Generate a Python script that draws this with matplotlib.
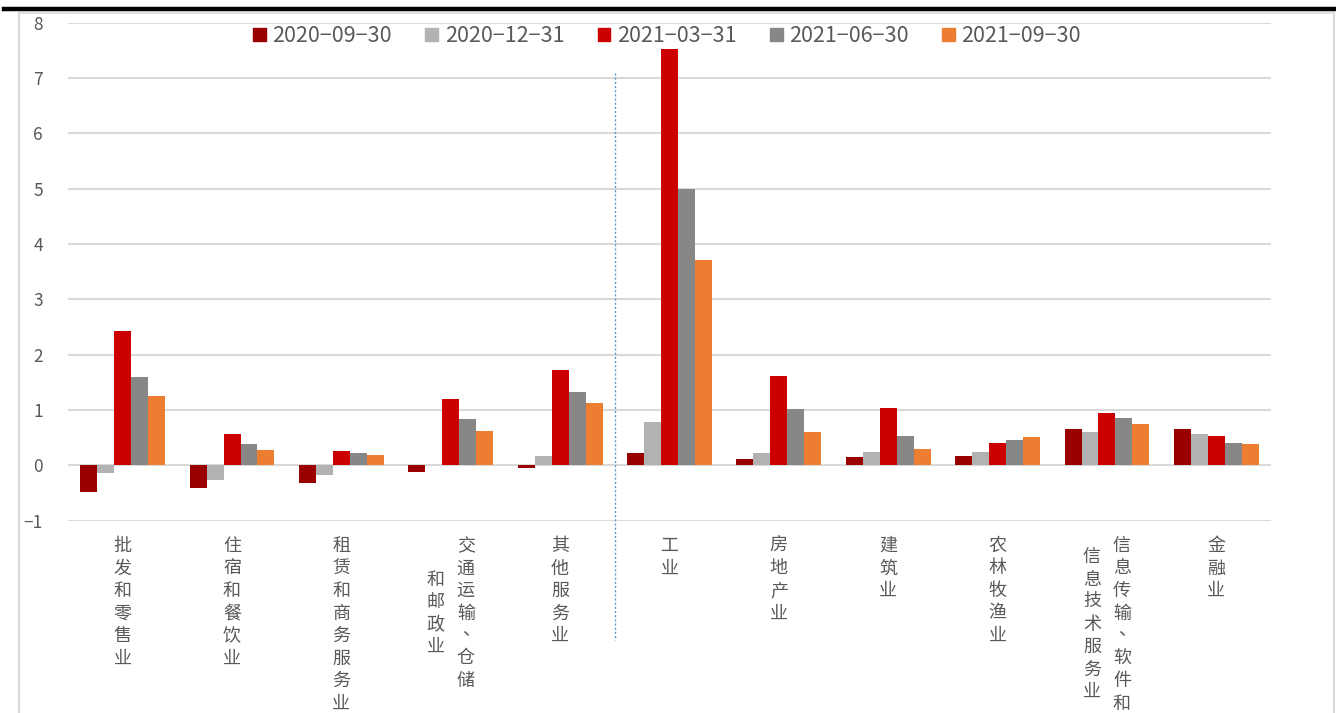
import matplotlib
matplotlib.use("Agg")
import matplotlib.pyplot as plt
import numpy as np
from matplotlib.patches import Rectangle
from matplotlib.lines import Line2D
from matplotlib.transforms import blended_transform_factory

plt.rcParams['font.family'] = ['Noto Sans CJK SC', 'DejaVu Sans']
plt.rcParams['axes.unicode_minus'] = True

categories = ["批发和零售业", "住宿和餐饮业", "租赁和商务服务业", "交通运输、仓储和邮政业",
              "其他服务业", "工业", "房地产业", "建筑业", "农林牧渔业",
              "信息传输、软件和信息技术服务业", "金融业"]
label_columns = [["批发和零售业"], ["住宿和餐饮业"], ["租赁和商务服务业"],
                 ["交通运输、仓储", "和邮政业"], ["其他服务业"], ["工业"], ["房地产业"],
                 ["建筑业"], ["农林牧渔业"], ["信息传输、软件和", "信息技术服务业"], ["金融业"]]
series_names = ["2020-09-30", "2020-12-31", "2021-03-31", "2021-06-30", "2021-09-30"]
s_2020_09 = [-0.48, -0.41, -0.32, -0.12, -0.05, 0.23, 0.12, 0.15, 0.17, 0.65, 0.65]
s_2020_12 = [-0.14, -0.27, -0.18, 0.01, 0.17, 0.78, 0.22, 0.24, 0.25, 0.60, 0.56]
s_2021_03 = [2.42, 0.57, 0.26, 1.20, 1.72, 7.53, 1.62, 1.04, 0.41, 0.95, 0.53]
s_2021_06 = [1.60, 0.38, 0.22, 0.84, 1.32, 5.00, 1.01, 0.53, 0.46, 0.86, 0.41]
s_2021_09 = [1.25, 0.28, 0.18, 0.62, 1.13, 3.72, 0.60, 0.29, 0.51, 0.75, 0.39]
series = [s_2020_09, s_2020_12, s_2021_03, s_2021_06, s_2021_09]
colors = ["#990000", "#B2B2B2", "#CC0000", "#878787", "#ED7D31"]
yticks = [-1, 0, 1, 2, 3, 4, 5, 6, 7, 8]

W, H = 1336, 713
fig = plt.figure(figsize=(W / 100, H / 100), dpi=100)
ax = fig.add_axes([68 / W, 1 - 520.7 / H, (1271 - 68) / W, (520.7 - 22.7) / H])

x = np.arange(len(categories))
bw = 0.155
for i, (vals, c) in enumerate(zip(series, colors)):
    ax.bar(x + (i - 2) * bw, vals, width=bw, color=c, zorder=3, label=series_names[i])

ax.set_xlim(-0.5, len(categories) - 0.5)
ax.set_ylim(-1, 8)
ax.set_yticks(yticks)
ax.set_yticklabels([("−%d" % -v) if v < 0 else str(v) for v in yticks])
ax.tick_params(axis='y', length=0, pad=18, labelsize=12.5, labelcolor="#595959")
ax.set_xticks([])
for s in ax.spines.values():
    s.set_visible(False)
ax.grid(axis='y', color="#D9D9D9", linewidth=1.5, zorder=0)

# separator dotted line
ax.plot([4.5, 4.5], [7.09, -3.16], color="#5B9BD5", linestyle=(0, (1.5, 1.5)),
        linewidth=1.0, clip_on=False, zorder=2)

# vertical category labels
tr = blended_transform_factory(ax.transData, fig.transFigure)
pitch = 22.5
top = 546.0
for xi, cols in enumerate(label_columns):
    n_max = max(len(c) for c in cols)
    center = top + (n_max - 1) * pitch / 2
    ncol = len(cols)
    for ci, col in enumerate(cols):
        dx = 0 if ncol == 1 else (0.5 - ci) * 30 / 109.4
        start = center - (len(col) - 1) * pitch / 2
        for k, ch in enumerate(col):
            ypix = start + k * pitch
            yy = 1 - ypix / H
            xx = xi + dx
            if ch == "、":
                ax.text(xx + 5 / 109.4, yy + 6 / H, ch, transform=tr, ha='center', va='center',
                        fontsize=13, color="#595959")
            else:
                ax.text(xx, yy, ch, transform=tr, ha='center', va='center',
                        fontsize=13, color="#595959")

# legend
handles = [Rectangle((0, 0), 1, 1, color=c) for c in colors]
legend_labels = [n.replace("-", "−") for n in series_names]
fig.legend(handles, legend_labels, loc='center', bbox_to_anchor=(667 / W, 1 - 36 / H),
           ncol=5, frameon=False, fontsize=15.5, handlelength=0.6, handleheight=0.6,
           handletextpad=0.3, columnspacing=1.55, labelcolor="#595959", borderaxespad=0)

# frame decorations
fig.add_artist(Line2D([4 / W, 1], [1 - 9 / H, 1 - 9 / H], color="black", linewidth=3.2,
                      transform=fig.transFigure))
fig.add_artist(Line2D([19 / W, 1334 / W], [1 - 12.5 / H, 1 - 12.5 / H], color="#D9D9D9",
                      linewidth=1.2, transform=fig.transFigure))
fig.add_artist(Line2D([19 / W, 19 / W], [0, 1 - 12.5 / H], color="#D9D9D9",
                      linewidth=1.5, transform=fig.transFigure))
fig.add_artist(Line2D([1334 / W, 1334 / W], [0, 1 - 12.5 / H], color="#D9D9D9",
                      linewidth=1.5, transform=fig.transFigure))

fig.savefig("out.png", dpi=100)
